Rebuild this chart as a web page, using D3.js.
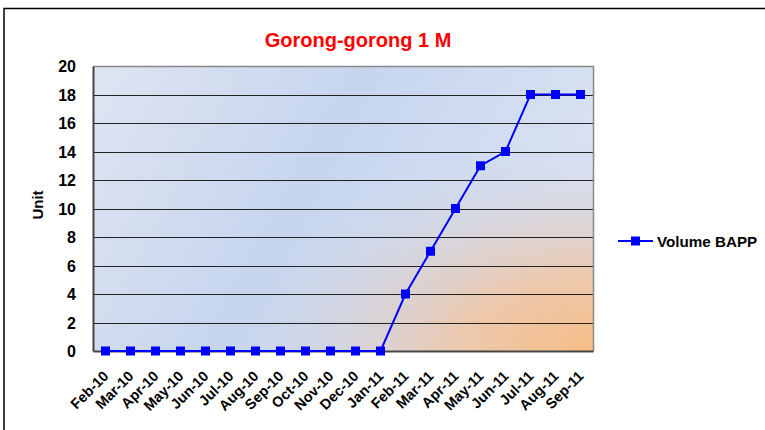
<!DOCTYPE html>
<html><head><meta charset="utf-8">
<script src="https://cdn.jsdelivr.net/npm/d3@7"></script>
<style>body{margin:0;background:#fff}svg{display:block}text{font-family:"Liberation Sans",Arial,sans-serif;font-weight:bold}</style>
</head><body><svg id="c" width="765" height="430"></svg>
<script>
const categories=["Feb-10","Mar-10","Apr-10","May-10","Jun-10","Jul-10","Aug-10","Sep-10","Oct-10","Nov-10","Dec-10","Jan-11","Feb-11","Mar-11","Apr-11","May-11","Jun-11","Jul-11","Aug-11","Sep-11"];
const volumeBAPP=[0,0,0,0,0,0,0,0,0,0,0,0,4,7,10,13,14,18,18,18];
const yTicks=[0,2,4,6,8,10,12,14,16,18,20];
const seriesName="Volume BAPP";
const title="Gorong-gorong 1 M";

const svg=d3.select("#c");
const m={l:93,r:593,t:66,b:351};
const defs=svg.append("defs");
const lg=defs.append("linearGradient").attr("id","bg").attr("x1","0").attr("y1","0").attr("x2","1").attr("y2","0.3");
lg.append("stop").attr("offset","0").attr("stop-color","#dfe5f2");
lg.append("stop").attr("offset","0.5").attr("stop-color","#c6d5ee");
lg.append("stop").attr("offset","1").attr("stop-color","#d9e2f3");
const rg=defs.append("radialGradient").attr("id","og").attr("cx","1").attr("cy","1").attr("r","0.75");
rg.append("stop").attr("offset","0").attr("stop-color","#f7bd86").attr("stop-opacity",1);
rg.append("stop").attr("offset","0.35").attr("stop-color","#f0c4a0").attr("stop-opacity",0.85);
rg.append("stop").attr("offset","1").attr("stop-color","#c6d5ee").attr("stop-opacity",0);

svg.append("rect").attr("x",4).attr("y",8.5).attr("width",780).attr("height",440).attr("fill","#fff").attr("stroke","#000").attr("stroke-width",1.5);

const x=d3.scaleBand().domain(categories).range([m.l,m.r]);
const y=d3.scaleLinear().domain([0,20]).range([m.b,m.t]);

svg.append("rect").attr("x",m.l).attr("y",m.t).attr("width",m.r-m.l).attr("height",m.b-m.t).attr("fill","url(#bg)");
svg.append("rect").attr("x",m.l).attr("y",m.t).attr("width",m.r-m.l).attr("height",m.b-m.t).attr("fill","url(#og)");

svg.append("g").selectAll("line").data(yTicks.filter(d=>d>0&&d<20)).join("line")
 .attr("x1",m.l).attr("x2",m.r).attr("y1",d=>Math.round(y(d))+0.5).attr("y2",d=>Math.round(y(d))+0.5)
 .attr("stroke","#222").attr("stroke-width",1);
svg.append("path").attr("d",`M${m.l},${m.t+0.5}H${m.r+0.5}V${m.b}`).attr("fill","none").attr("stroke","#888").attr("stroke-width",1.5);

const ya=svg.append("g").attr("transform",`translate(${m.l},0)`).call(d3.axisLeft(y).tickValues(yTicks).tickSize(0).tickPadding(17));
ya.select(".domain").attr("stroke","#444").attr("stroke-width",2);
ya.selectAll("text").attr("font-size",16).attr("fill","#000").attr("font-weight","bold").attr("font-family","Liberation Sans, Arial, sans-serif").attr("dy","0.36em");
const xa=svg.append("g").attr("transform",`translate(0,${m.b})`).call(d3.axisBottom(x).tickSize(0).tickPadding(0));
xa.select(".domain").attr("stroke","#444").attr("stroke-width",2);
xa.selectAll("text").attr("font-size",14.5).attr("fill","#000").attr("font-weight","bold").attr("font-family","Liberation Sans, Arial, sans-serif")
 .attr("text-anchor","end").attr("y",0).attr("dy",0).attr("transform","translate(4,26) rotate(-45)");

const line=d3.line().x((d,i)=>x(categories[i])+x.bandwidth()/2).y(d=>y(d));
svg.append("path").datum(volumeBAPP).attr("d",line).attr("fill","none").attr("stroke","#0000ff").attr("stroke-width",2);
svg.append("g").selectAll("rect").data(volumeBAPP).join("rect")
 .attr("x",(d,i)=>x(categories[i])+x.bandwidth()/2-4.5).attr("y",d=>y(d)-4.5).attr("width",9).attr("height",9).attr("fill","#0000ff");

svg.append("text").attr("x",358).attr("y",47).attr("text-anchor","middle").attr("font-size",20).attr("fill","#ff0000").text(title);
svg.append("text").attr("transform","translate(43,205) rotate(-90)").attr("text-anchor","middle").attr("font-size",15).attr("fill","#000").text("Unit");
const lgd=svg.append("g").attr("transform","translate(618,241)");
lgd.append("line").attr("x1",0).attr("x2",35).attr("stroke","#0000ff").attr("stroke-width",2);
lgd.append("rect").attr("x",13).attr("y",-4.5).attr("width",9).attr("height",9).attr("fill","#0000ff");
lgd.append("text").attr("x",39).attr("y",5.5).attr("font-size",15.2).attr("fill","#000").text(seriesName);
</script></body></html>
